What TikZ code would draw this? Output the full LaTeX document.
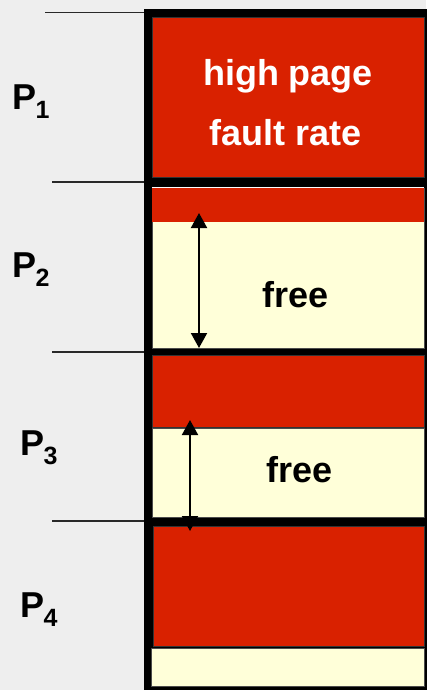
\documentclass[tikz,border=0pt]{standalone}
\usepackage{fontspec}
\setmainfont{Liberation Sans}
\usetikzlibrary{arrows.meta}
\definecolor{bgclr}{RGB}{238,238,238}
\definecolor{usedred}{RGB}{217,33,0}
\definecolor{freeclr}{RGB}{255,255,217}
\definecolor{tickclr}{RGB}{40,40,40}
\tikzset{
  % belegte und freie Bereiche
  usedblk/.style   = {fill=usedred, draw=black!80, line width=0.8pt},
  freeblk/.style   = {fill=freeclr, draw=black!70, line width=0.8pt},
  % Grenzstriche links
  bound/.style     = {draw=tickclr, line width=1.4pt},
  % Pfeile fuer freie Groesse
  sizearrow/.style = {{Triangle[width=16pt,length=15pt]}-{Triangle[width=16pt,length=15pt]}, line width=2pt},
  % Beschriftungen
  proclab/.style   = {anchor=base west, inner sep=0pt, font=\fontsize{36}{40}\selectfont\bfseries},
  blklab/.style    = {anchor=base, inner sep=0pt, font=\fontsize{36}{40}\selectfont\bfseries},
}
\newcommand{\psub}[1]{\kern-1pt\raisebox{-9pt}{\fontsize{25}{25}\selectfont #1}}

\begin{document}
\begin{tikzpicture}[x=1pt,y=-1pt]
  \fill[bgclr] (0,0) rectangle (426,690);
  \useasboundingbox (0,0) rectangle (426,690);
  % Speicherspalte
  \fill[black] (144,9) rectangle (432,696);
  % P1
  \draw[usedblk] (152,17) rectangle (424,177);
  % P2
  \draw[white, line width=1pt] (152,187) -- (424,187);
  \draw[freeblk] (152,188) rectangle (424,348);
  \fill[usedred] (152.4,188) rectangle (424,222);
  % P3
  \draw[usedblk] (152,355) rectangle (424,427);
  \draw[freeblk] (152,428) rectangle (424,517);
  % P4
  \draw[usedblk] (153,526) rectangle (424,646);
  \draw[freeblk] (151,648) rectangle (424,686);
  % Grenzen
  \foreach \xs/\ys in {45/12.5, 52/182, 52/352, 52/521}
    \draw[bound] (\xs,\ys) -- (144,\ys);
  % Pfeile
  \coordinate (fa1) at (199,213);
  \coordinate (fa2) at (199,348);
  \coordinate (fb1) at (190,420);
  \coordinate (fb2) at (190,531);
  \draw[sizearrow] (fa1) -- (fa2);
  \draw[sizearrow] (fb1) -- (fb2);
  % Texte
  \node[blklab, white] (hp) at (288,86) {high page};
  \node[blklab, white] (fr) at (286,145) {fault rate};
  \node[blklab] (free2) at (296,307) {free};
  \node[blklab] (free3) at (299.5,482) {free};
  \node[proclab] (p1) at (12.5,110) {P\psub{1}};
  \node[proclab] (p2) at (12.5,277) {P\psub{2}};
  \node[proclab] (p3) at (20.5,455) {P\psub{3}};
  \node[proclab] (p4) at (20.5,617) {P\psub{4}};
\end{tikzpicture}
\end{document}
